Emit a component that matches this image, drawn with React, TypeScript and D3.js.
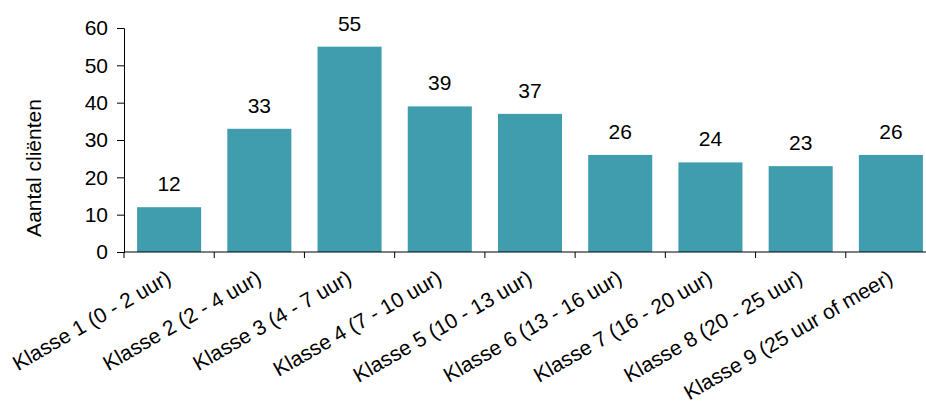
import { useRef, useEffect } from "react";
import * as d3 from "d3";

const categories = [
  "Klasse 1 (0 - 2 uur)",
  "Klasse 2 (2 - 4 uur)",
  "Klasse 3 (4 - 7 uur)",
  "Klasse 4 (7 - 10 uur)",
  "Klasse 5 (10 - 13 uur)",
  "Klasse 6 (13 - 16 uur)",
  "Klasse 7 (16 - 20 uur)",
  "Klasse 8 (20 - 25 uur)",
  "Klasse 9 (25 uur of meer)",
];
const values = [12, 33, 55, 39, 37, 26, 24, 23, 26];
const yTicks = [0, 10, 20, 30, 40, 50, 60];
const yTitle = "Aantal cliënten";

export default function App() {
  const svgRef = useRef<SVGSVGElement>(null);

  useEffect(() => {
    if (!svgRef.current) return;
    const width = 926;
    const height = 405;
    const font = "'Liberation Sans', Arial, sans-serif";
    const fs = 21;

    const svg = d3.select(svgRef.current);
    svg.selectAll("*").remove();

    const x = d3
      .scaleBand<string>()
      .domain(categories)
      .range([124, 936])
      .paddingInner(0.29)
      .paddingOuter(0.145);

    const y = d3.scaleLinear().domain([0, 60]).range([252, 28]);

    // bars
    svg
      .append("g")
      .selectAll("rect")
      .data(values)
      .join("rect")
      .attr("x", (_, i) => x(categories[i])!)
      .attr("y", (d) => y(d))
      .attr("width", x.bandwidth())
      .attr("height", (d) => y(0) - y(d))
      .attr("fill", "#409DAE");

    // value labels
    svg
      .append("g")
      .selectAll("text")
      .data(values)
      .join("text")
      .attr("x", (_, i) => x(categories[i])! + x.bandwidth() / 2)
      .attr("y", (d) => y(d) - 16)
      .attr("text-anchor", "middle")
      .attr("font-family", font)
      .attr("font-size", fs)
      .attr("fill", "#000")
      .text((d) => d);

    // y axis
    const yAxis = d3
      .axisLeft(y)
      .tickValues(yTicks)
      .tickSize(7)
      .tickSizeOuter(7)
      .tickPadding(9);

    svg
      .append("g")
      .attr("transform", "translate(124,0)")
      .call(yAxis)
      .call((g) => g.select(".domain").attr("stroke", "#000"))
      .call((g) => g.selectAll(".tick line").attr("stroke", "#000"))
      .call((g) =>
        g
          .selectAll(".tick text")
          .attr("font-family", font)
          .attr("font-size", fs)
          .attr("fill", "#000")
      );

    // x axis: ticks at band boundaries
    const step = x.step();
    const bounds = categories.map((c) => x(c)! - (step - x.bandwidth()) / 2);
    const xg = svg.append("g");
    xg.append("line")
      .attr("x1", 124)
      .attr("x2", 936)
      .attr("y1", y(0))
      .attr("y2", y(0))
      .attr("stroke", "#000");
    xg.selectAll("line.tk")
      .data(bounds)
      .join("line")
      .attr("class", "tk")
      .attr("x1", (d) => d)
      .attr("x2", (d) => d)
      .attr("y1", y(0))
      .attr("y2", y(0) + 6)
      .attr("stroke", "#000");

    // category labels
    svg
      .append("g")
      .selectAll("text")
      .data(categories)
      .join("text")
      .attr(
        "transform",
        (d) => `translate(${x(d)! + x.bandwidth() / 2 - 4},${y(0) + 17}) rotate(-30)`
      )
      .attr("text-anchor", "end")
      .attr("dy", "0.71em")
      .attr("font-family", font)
      .attr("font-size", fs)
      .attr("fill", "#000")
      .text((d) => d);

    // y title
    svg
      .append("text")
      .attr("transform", `translate(41,168) rotate(-90)`)
      .attr("text-anchor", "middle")
      .attr("font-family", font)
      .attr("font-size", fs)
      .attr("fill", "#000")
      .text(yTitle);

    svg.attr("width", width).attr("height", height);
  }, []);

  return (
    <svg
      ref={svgRef}
      width={926}
      height={405}
      style={{ position: "absolute", left: 0, top: 0, background: "#fff" }}
    />
  );
}
